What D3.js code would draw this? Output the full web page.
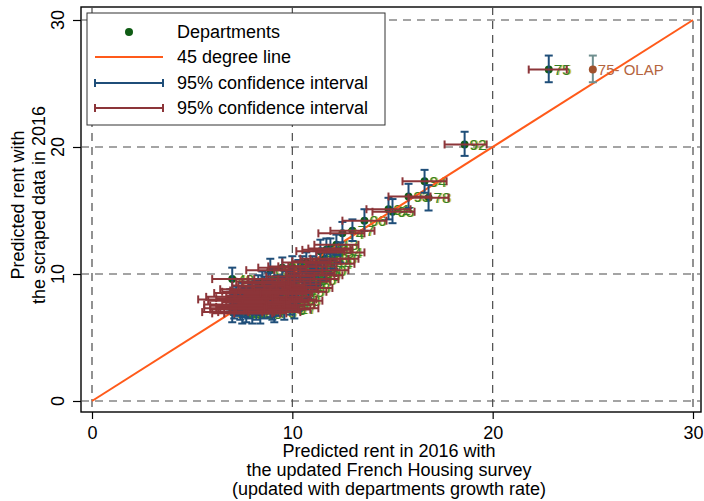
<!DOCTYPE html>
<html><head><meta charset="utf-8">
<script src="https://cdn.jsdelivr.net/npm/d3@7/dist/d3.min.js"></script>
<style>body{margin:0;background:#fff}svg{display:block}text{font-family:"Liberation Sans",Arial,sans-serif}</style>
</head><body><svg id="c" width="704" height="501"></svg>
<script>
// ---- data ----
const depts = ["75","92","94","78","93","95","91","06","77","74","13","69","83","34","33","2B","31","44","67","38","60","73","01","59","35","84","30","65","05","48","66","37","14","21","51","17","68","45","63","56","22","64","29","85","49","25","54","26","57","28","27","07","40","11","82","81","86","16","24","32","46","09","87","72","80","79","76","41","10","50","62","18","53","71","12","89","02","19","43","03","15","70","88","08","61","36","52","55","58","23","39","42","47","90","04"];
const xVal = [22.8,18.6,16.6,16.8,15.8,15.0,14.8,13.6,13.0,12.5,12.2,11.9,11.7,12.4,12.1,11.4,11.6,11.9,11.2,11.0,11.6,10.7,10.5,11.3,10.9,10.3,10.0,9.5,8.9,7.0,11.1,10.7,10.5,10.2,9.9,9.7,10.8,10.5,10.1,9.9,9.3,9.1,8.8,8.6,9.0,9.4,9.7,10.0,9.9,10.3,10.1,8.5,8.3,8.2,8.9,9.2,9.5,9.3,8.7,8.0,7.8,7.5,8.4,8.6,8.9,9.6,9.1,8.2,7.9,8.4,7.6,7.7,8.0,7.3,7.2,7.4,7.1,7.0,7.5,6.9,7.8,8.1,8.6,8.8,9.0,8.3,7.6,7.3,7.9,7.1,8.7,9.4,8.5,9.7,10.9];
const yVal = [26.1,20.2,17.3,16.0,16.1,14.9,15.1,14.2,13.4,13.2,12.3,12.0,11.9,11.7,11.2,11.8,11.2,10.8,11.0,10.6,10.3,10.9,10.6,9.9,10.1,10.3,10.6,10.5,10.3,9.6,9.6,9.4,9.6,9.2,9.8,9.4,8.9,8.6,8.7,9.0,9.1,9.6,9.3,9.0,8.7,8.4,8.2,8.0,7.6,7.9,7.3,9.4,9.1,8.7,8.4,8.1,7.8,7.5,8.0,8.3,8.8,8.5,8.2,7.7,7.4,7.2,7.0,7.2,7.8,6.9,7.4,7.0,6.9,7.9,8.2,7.2,7.6,7.0,6.9,8.0,7.3,7.6,7.3,7.8,7.2,7.6,8.1,7.5,8.6,7.3,8.6,8.8,8.5,8.5,9.9];
const xLow = [21.8,17.6,15.5,15.8,14.8,14.0,13.7,12.5,11.9,11.3,11.1,10.8,10.5,11.2,10.9,10.2,10.4,10.7,10.0,9.8,10.4,9.5,9.3,10.1,9.7,9.1,8.8,8.3,7.7,6.0,9.9,9.5,9.3,9.0,8.7,8.5,9.6,9.3,8.9,8.6,8.0,7.8,7.5,7.3,7.7,8.1,8.5,8.8,8.7,9.1,8.9,7.2,7.0,6.9,7.6,7.9,8.2,8.0,7.4,6.7,6.4,6.1,7.1,7.3,7.6,8.3,7.8,6.9,6.5,7.1,6.2,6.3,6.6,5.8,5.7,5.9,5.6,5.5,6.0,5.3,6.4,6.7,7.2,7.5,7.7,7.0,6.2,5.9,6.5,5.6,7.4,8.1,7.2,8.4,9.7];
const xHigh = [23.7,19.7,17.7,17.8,16.9,16.1,15.9,14.7,14.1,13.6,13.3,13.0,12.9,13.6,13.3,12.6,12.8,13.1,12.4,12.2,12.8,11.9,11.7,12.5,12.1,11.5,11.2,10.7,10.1,8.1,12.3,11.9,11.7,11.4,11.1,10.9,12.0,11.7,11.3,11.2,10.6,10.4,10.1,9.9,10.3,10.7,10.9,11.2,11.1,11.5,11.3,9.8,9.6,9.5,10.2,10.5,10.8,10.6,10.0,9.3,9.2,8.9,9.7,9.9,10.2,10.9,10.4,9.5,9.3,9.7,9.0,9.1,9.4,8.8,8.7,8.9,8.6,8.5,9.0,8.5,9.2,9.5,10.0,10.1,10.3,9.6,9.0,8.7,9.3,8.6,10.0,10.7,9.8,11.0,12.1];
const yLow = [25.1,19.3,16.4,15.0,15.2,14.0,14.3,13.4,12.6,12.3,11.5,11.2,11.0,10.9,10.4,10.9,10.4,10.0,10.2,9.8,9.5,10.1,9.8,9.1,9.3,9.5,9.8,9.7,9.5,8.8,8.8,8.6,8.8,8.4,9.0,8.6,8.1,7.8,7.9,8.2,8.3,8.8,8.5,8.2,7.9,7.6,7.4,7.2,6.8,7.1,6.5,8.6,8.3,7.9,7.6,7.3,7.0,6.7,7.2,7.5,8.0,7.7,7.4,6.9,6.6,6.4,6.2,6.4,7.0,6.1,6.6,6.2,6.1,7.1,7.4,6.4,6.8,6.2,6.1,7.2,6.5,6.8,6.5,7.0,6.4,6.8,7.3,6.7,7.8,6.5,7.8,8.0,7.7,7.7,9.1];
const yHigh = [27.2,21.2,18.2,17.0,17.1,15.9,16.0,15.1,14.3,14.1,13.1,12.8,12.8,12.5,12.0,12.7,12.0,11.6,11.8,11.4,11.1,11.7,11.4,10.7,10.9,11.1,11.4,11.3,11.2,10.5,10.4,10.2,10.4,10.0,10.6,10.2,9.7,9.4,9.5,9.8,9.9,10.4,10.1,9.8,9.5,9.2,9.0,8.8,8.4,8.7,8.1,10.2,9.9,9.5,9.2,8.9,8.6,8.3,8.8,9.1,9.6,9.3,9.0,8.5,8.2,8.0,7.8,8.0,8.6,7.7,8.2,7.8,7.7,8.7,9.0,8.0,8.4,7.8,7.7,8.8,8.1,8.4,8.1,8.6,8.0,8.4,8.9,8.3,9.4,8.1,9.4,9.6,9.3,9.3,10.7];
// Paris with OLAP data
const olapLabel = ["75- OLAP"];
const olapX = [25.0];
const olapY = [26.1];
const olapYLow = [25.1];
const olapYHigh = [27.2];
const ticks = [0, 10, 20, 30];
const legendLabels = ["Departments", "45 degree line", "95% confidence interval", "95% confidence interval"];
const xTitle = ["Predicted rent in 2016  with", "the updated French Housing survey", "(updated with departments growth rate)"];
const yTitle = ["Predicted rent  with", "the scraped data in 2016"];

// ---- styles ----
const C = {green:"#0f5c14", label:"#2f7f2a", labelShadow:"#c9b800", blue:"#1f4e79", red:"#8c3539", orange:"#ff5a1a", olapDot:"#a0522d", olapCI:"#6f8f8f", olapLabel:"#b4643e", grid:"#4a4a4a"};
const FS = 18;
const L = 81, R = 701, T = 7, B = 412;
const svg = d3.select("#c");
const x = d3.scaleLinear().domain([0,30]).range([92,693]);
const y = d3.scaleLinear().domain([0,30]).range([401,20]);

// frame
svg.append("rect").attr("x",L).attr("y",T).attr("width",R-L).attr("height",B-T).attr("fill","#fff").attr("stroke","#000").attr("stroke-width",1.4);

// grid
const g = svg.append("g");
ticks.forEach(t=>{
  g.append("line").attr("x1",x(t)).attr("x2",x(t)).attr("y1",T).attr("y2",B).attr("stroke",C.grid).attr("stroke-width",1.2).attr("stroke-dasharray","8,6");
  g.append("line").attr("x1",L).attr("x2",R).attr("y1",y(t)).attr("y2",y(t)).attr("stroke",C.grid).attr("stroke-width",1.2).attr("stroke-dasharray","8,6");
});

// axes
const xa = svg.append("g").attr("transform",`translate(0,${B})`).call(d3.axisBottom(x).tickValues(ticks).tickSize(7).tickPadding(7).tickFormat(d3.format("d")));
xa.select(".domain").remove();
xa.selectAll("line").attr("stroke","#000").attr("stroke-width",1.2);
xa.selectAll("text").attr("font-size",FS).attr("fill","#000").style("font-family","Liberation Sans, Arial");
const ya = svg.append("g").attr("transform",`translate(${L},0)`).call(d3.axisLeft(y).tickValues(ticks).tickSize(8).tickFormat(""));
ya.select(".domain").remove();
ya.selectAll("line").attr("stroke","#000").attr("stroke-width",1.2);
ticks.forEach(t=>{
  svg.append("text").attr("transform",`translate(58,${y(t)}) rotate(-90)`).attr("text-anchor","middle").attr("dominant-baseline","central").attr("font-size",FS).text(t);
});

// titles
xTitle.forEach((s,i)=>svg.append("text").attr("x",389).attr("y",457+i*19).attr("text-anchor","middle").attr("font-size",FS).text(s));
yTitle.forEach((s,i)=>svg.append("text").attr("transform",`translate(${18+i*21},205) rotate(-90)`).attr("text-anchor","middle").attr("dominant-baseline","central").attr("font-size",FS).text(s));

const data = depts.map((d,i)=>({d, x:xVal[i], y:yVal[i], xl:xLow[i], xh:xHigh[i], yl:yLow[i], yh:yHigh[i]}));
const plot = svg.append("g");

// scatter + labels
plot.selectAll("circle.dep").data(data).join("circle").attr("class","dep").attr("cx",d=>x(d.x)).attr("cy",d=>y(d.y)).attr("r",4).attr("fill",C.green);
const lab = plot.append("g").attr("font-size",15);
lab.selectAll("text.s").data(data).join("text").attr("class","s").attr("x",d=>x(d.x)+6.5).attr("y",d=>y(d.y)).attr("dominant-baseline","central").attr("fill",C.labelShadow).attr("opacity",0.75).text(d=>d.d);
lab.selectAll("text.m").data(data).join("text").attr("class","m").attr("x",d=>x(d.x)+5).attr("y",d=>y(d.y)).attr("dominant-baseline","central").attr("fill",C.label).text(d=>d.d);

// 45 degree line
plot.append("line").attr("x1",x(0)).attr("y1",y(0)).attr("x2",x(30)).attr("y2",y(30)).attr("stroke",C.orange).attr("stroke-width",2);

// CIs
const cap = 4;
function vci(sel, cx, lo, hi, col){
  sel.append("line").attr("x1",cx).attr("x2",cx).attr("y1",lo).attr("y2",hi).attr("stroke",col).attr("stroke-width",2);
  sel.append("line").attr("x1",cx-cap).attr("x2",cx+cap).attr("y1",lo).attr("y2",lo).attr("stroke",col).attr("stroke-width",2);
  sel.append("line").attr("x1",cx-cap).attr("x2",cx+cap).attr("y1",hi).attr("y2",hi).attr("stroke",col).attr("stroke-width",2);
}
function hci(sel, cy, lo, hi, col){
  sel.append("line").attr("y1",cy).attr("y2",cy).attr("x1",lo).attr("x2",hi).attr("stroke",col).attr("stroke-width",2);
  sel.append("line").attr("y1",cy-cap).attr("y2",cy+cap).attr("x1",lo).attr("x2",lo).attr("stroke",col).attr("stroke-width",2);
  sel.append("line").attr("y1",cy-cap).attr("y2",cy+cap).attr("x1",hi).attr("x2",hi).attr("stroke",col).attr("stroke-width",2);
}
const vg = plot.append("g");
data.forEach(d=>vci(vg, x(d.x), y(d.yl), y(d.yh), C.blue));
const hg = plot.append("g");
data.forEach(d=>hci(hg, y(d.y), x(d.xl), x(d.xh), C.red));

// OLAP
const og = plot.append("g");
olapX.forEach((v,i)=>{
  vci(og, x(v), y(olapYLow[i]), y(olapYHigh[i]), C.olapCI);
  og.append("circle").attr("cx",x(v)).attr("cy",y(olapY[i])).attr("r",4).attr("fill",C.olapDot);
  og.append("text").attr("x",x(v)+5).attr("y",y(olapY[i])).attr("dominant-baseline","central").attr("font-size",15).attr("fill",C.olapLabel).text(olapLabel[i]);
});

// legend
const lg = svg.append("g");
lg.append("rect").attr("x",87).attr("y",13).attr("width",298).attr("height",112).attr("fill","#fff").attr("stroke","#333").attr("stroke-width",1);
const rows = [32,57,83,108];
lg.append("circle").attr("cx",129).attr("cy",rows[0]).attr("r",4).attr("fill",C.green);
lg.append("line").attr("x1",95).attr("x2",163).attr("y1",rows[1]).attr("y2",rows[1]).attr("stroke",C.orange).attr("stroke-width",2);
hci(lg, rows[2], 95, 163, C.blue);
hci(lg, rows[3], 95, 163, C.red);
legendLabels.forEach((s,i)=>lg.append("text").attr("x",177).attr("y",rows[i]).attr("dominant-baseline","central").attr("font-size",FS).text(s));
</script></body></html>
